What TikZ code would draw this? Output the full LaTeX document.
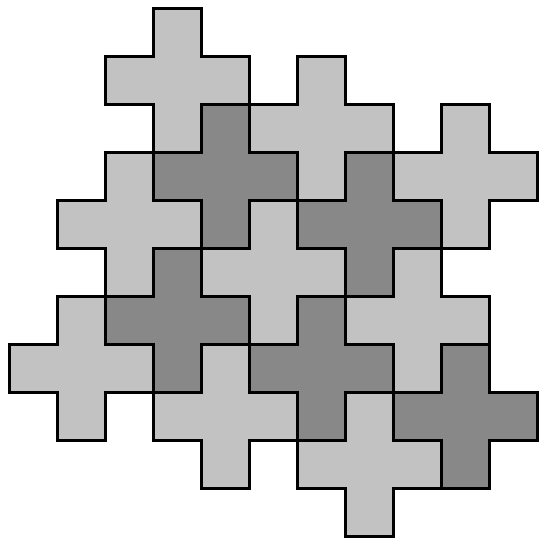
\documentclass[tikz,border=0pt]{standalone}
\usepackage{tikz}

\definecolor{tilelight}{RGB}{194,194,194}
\definecolor{tiledark}{RGB}{136,136,136}

\begin{document}
\begin{tikzpicture}[x=1cm, y=1cm,
  plus/.style={draw=black, line width=2pt, line join=miter},
  light plus/.style={plus, fill=tilelight},
  dark plus/.style={plus, fill=tiledark}]
  \useasboundingbox (-0.198,0.177) rectangle (11.031,-11.073);
  % light crosses, given by the column and row of their middle square
  \foreach \c/\r in {3/1, 6/2, 9/3, 2/4, 5/5, 8/6, 1/7, 4/8, 7/9}
    \draw[light plus, shift={(\c,-\r-1)}]
      (0,-1) -- (1,-1) -- (1,0) -- (2,0) -- (2,1) -- (1,1) -- (1,2)
      -- (0,2) -- (0,1) -- (-1,1) -- (-1,0) -- (0,0) -- cycle;
  % dark crosses
  \foreach \c/\r in {4/3, 7/4, 3/6, 6/7, 9/8}
    \draw[dark plus, shift={(\c,-\r-1)}]
      (0,-1) -- (1,-1) -- (1,0) -- (2,0) -- (2,1) -- (1,1) -- (1,2)
      -- (0,2) -- (0,1) -- (-1,1) -- (-1,0) -- (0,0) -- cycle;
\end{tikzpicture}
\end{document}
